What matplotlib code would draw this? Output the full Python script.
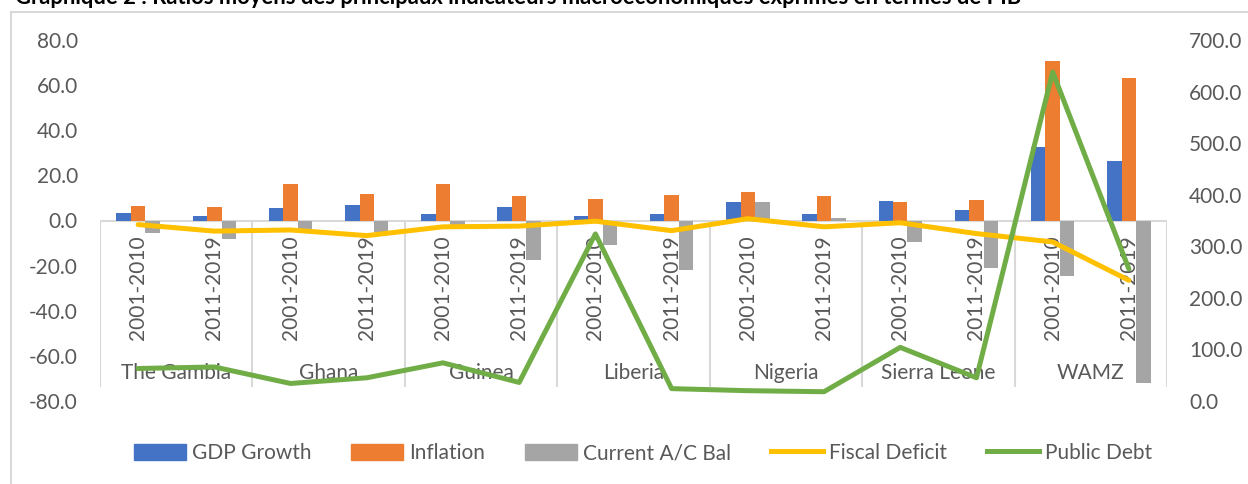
import numpy as np
import matplotlib.pyplot as plt
from matplotlib.patches import Rectangle, Patch
from matplotlib.lines import Line2D

plt.rcParams['font.family'] = ['Lato', 'DejaVu Sans']
plt.rcParams['axes.unicode_minus'] = False

# données
countries = ['The Gambia', 'Ghana', 'Guinea', 'Liberia', 'Nigeria', 'Sierra Leone', 'WAMZ']
periods = ['2001-2010', '2011-2019']
gdp_growth = [3.2, 2.2, 5.4, 6.8, 2.8, 5.8, 2.2, 2.8, 8.4, 2.8, 8.8, 4.6, 32.7, 26.5]
inflation = [6.6, 5.8, 16.0, 11.7, 16.0, 11.0, 9.7, 11.5, 12.5, 11.0, 8.0, 9.3, 70.7, 63.0]
current_ac = [-5.6, -8.0, -3.8, -5.0, -2.0, -17.7, -11.0, -22.0, 8.1, 1.0, -9.5, -21.0, -24.5, -72.0]
fiscal_deficit = [-1.8, -4.7, -4.2, -6.7, -2.8, -2.5, -0.3, -4.5, 0.8, -2.8, -1.0, -5.8, -9.5, -26.5]
public_debt = [63, 66, 34, 45, 74, 36, 324, 24, 20, 18, 104, 45, 638, 256]

blue, orange, grey = '#4472C4', '#ED7D31', '#A5A5A5'
yellow, green = '#FFC000', '#70AD47'
txt = '#595959'

fig = plt.figure(figsize=(12.48, 4.84), dpi=100)
W, H = 1248, 484
ax = fig.add_axes([100 / W, 1 - 401 / H, 1067 / W, 361 / H])
ax2 = ax.twinx()

n = len(gdp_growth)
x = np.arange(n)
bw = 0.19
ax.bar(x - bw, gdp_growth, bw, color=blue, zorder=2)
ax.bar(x, inflation, bw, color=orange, zorder=2)
ax.bar(x + bw, current_ac, bw, color=grey, zorder=2)
ax.plot(x, fiscal_deficit, color=yellow, lw=3.6, zorder=5, solid_capstyle='round')
ax2.plot(x, public_debt, color=green, lw=3.6, zorder=5, solid_capstyle='round')

ax.set_xlim(-0.5, n - 0.5)
ax.set_ylim(-80, 80)
ax2.set_ylim(0, 700)
ax.set_yticks(np.arange(-80, 81, 20))
ax.set_yticklabels(['%.1f' % v for v in np.arange(-80, 81, 20)])
ax2.set_yticks(np.arange(0, 701, 100))
ax2.set_yticklabels(['%.1f' % v for v in np.arange(0, 701, 100)])
for a in (ax, ax2):
    a.tick_params(axis='y', length=0, labelsize=15, labelcolor=txt, pad=16)
    for s in a.spines.values():
        s.set_visible(False)
ax.set_xticks([])
ax2.set_xticks([])

# axe des catégories à zéro
ax.axhline(0, color='#D9D9D9', lw=1.5, zorder=1)
ax.vlines(np.arange(-0.5, n, 2), -74, 0, color='#D9D9D9', lw=1.5, zorder=1)
for i in range(n):
    ax.text(x[i], -6.8, periods[i % 2], rotation=90, ha='center', va='top',
            fontsize=15, color=txt, zorder=3)
for g, c in enumerate(countries):
    ax.text(2 * g + 0.5, -67.5, c, ha='center', va='center', fontsize=15,
            color=txt, zorder=3)

# légende
handles = [Patch(color=blue), Patch(color=orange), Patch(color=grey),
           Line2D([], [], color=yellow, lw=3.6), Line2D([], [], color=green, lw=3.6)]
labels = ['GDP Growth', 'Inflation', 'Current A/C Bal', 'Fiscal Deficit', 'Public Debt']
fig.legend(handles, labels, loc='center', bbox_to_anchor=(643 / W, 1 - 453 / H), ncol=5,
           frameon=False, fontsize=15, labelcolor=txt, handlelength=2.5, handleheight=0.8,
           handletextpad=0.3, columnspacing=1.9)

# cadre et titre
fig.patches.append(Rectangle((11 / W, -0.1), 1.2, 1.1 - 12 / H, transform=fig.transFigure,
                             fill=False, edgecolor='#D9D9D9', lw=1.5))
fig.text(15 / W, 1 - 3.5 / H, 'Graphique 2 : Ratios moyens des principaux indicateurs '
         'macroéconomiques exprimés en termes de PIB', fontsize=15.8, fontweight='bold',
         ha='left', va='baseline')

fig.savefig('out.png', dpi=100)
